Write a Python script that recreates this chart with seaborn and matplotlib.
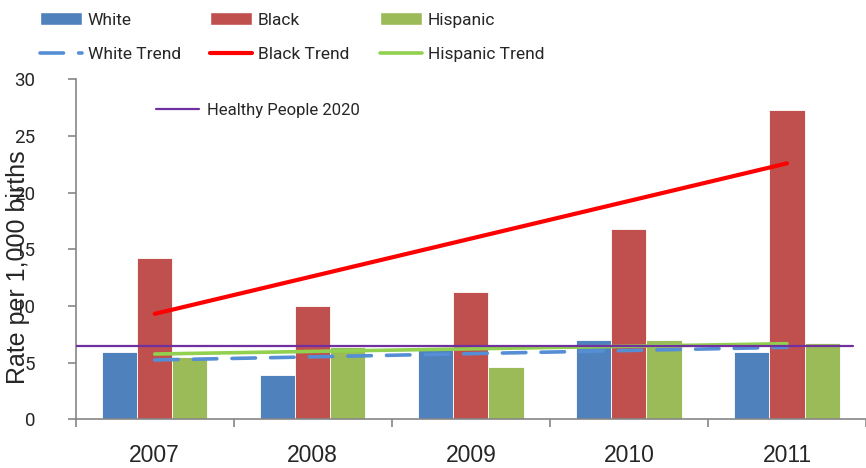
import pandas as pd
import seaborn as sns
import matplotlib.pyplot as plt
from matplotlib.patches import Patch
from matplotlib.lines import Line2D

# values
years = ["2007", "2008", "2009", "2010", "2011"]
white = [5.9, 3.9, 6.3, 7.0, 5.9]
black = [14.2, 10.0, 11.2, 16.8, 27.3]
hispanic = [5.5, 6.35, 4.65, 7.0, 6.75]

# trend lines (value at 2007, value at 2011)
white_trend = [5.23, 6.35]
black_trend = [9.3, 22.57]
hispanic_trend = [5.76, 6.67]

hp2020 = 6.5

groups = ["White", "Black", "Hispanic"]
bar_colors = ["#4F81BD", "#C0504D", "#9BBB59"]
trend_colors = ["#558ED5", "#FF0000", "#92D050"]

df = pd.DataFrame({
    "year": years * 3,
    "rate": white + black + hispanic,
    "group": [g for g in groups for _ in years],
})

txt_font = ["Roboto", "DejaVu Sans"]
regular = ["Liberation Sans", "DejaVu Sans"]

sns.set_style("white")
plt.rcParams["font.family"] = txt_font

fig = plt.figure(figsize=(8.66, 4.68), dpi=100)
ax = fig.add_axes([0.0874, 0.104, 0.9126, 0.727])

sns.barplot(data=df, x="year", y="rate", hue="group", palette=bar_colors,
            saturation=1, width=0.667, edgecolor="#ffffff", linewidth=0.6,
            legend=False, ax=ax, zorder=2)

ends = [0, len(years) - 1]
ax.plot(ends, white_trend, color=trend_colors[0], lw=2.6, dashes=(6.5, 4.2),
        dash_capstyle="round", zorder=3)
ax.plot(ends, hispanic_trend, color=trend_colors[2], lw=2.6, solid_capstyle="round", zorder=3)
ax.plot(ends, black_trend, color=trend_colors[1], lw=3, solid_capstyle="round", zorder=3)
ax.axhline(hp2020, xmin=0, xmax=0.983, color="#7030A0", lw=1.6, zorder=4)

ax.set_ylim(0, 30)
ax.set_xlim(-0.5, 4.465)
ax.set_yticks(range(0, 31, 5))

# category boundary ticks, labels at centers
ax.set_xticks([i - 0.5 for i in range(len(years) + 1)])
ax.set_xticklabels([])
ax.set_xticks(range(len(years)), minor=True)
ax.set_xticklabels(years, minor=True, fontsize=16.5, family=regular)
ax.tick_params(axis="x", which="major", direction="out", length=6, width=1.2,
               color="#868686", bottom=True)
ax.tick_params(axis="x", which="minor", length=0, pad=18)
ax.tick_params(axis="y", direction="out", length=6, width=1.2, color="#868686",
               left=True, pad=23, labelsize=13.5)

for s in ["top", "right"]:
    ax.spines[s].set_visible(False)
for s in ["left", "bottom"]:
    ax.spines[s].set_color("#868686")
    ax.spines[s].set_linewidth(1.2)

ax.set_xlabel("")
ax.set_ylabel("Rate per 1,000 births", fontsize=18, family=regular)
ax.yaxis.label.set_va("center")
ax.yaxis.set_label_coords(-0.0734, 0.446)

# one legend per group column: bar on top, trend below
for i, g in enumerate(groups):
    trend = Line2D([], [], color=trend_colors[i], lw=3 if i == 1 else 2.6)
    if i == 0:
        trend = Line2D([], [], color=trend_colors[i], lw=2.6, dashes=(6.5, 4.2),
                       dash_capstyle="round")
    fig.legend([Patch(facecolor=bar_colors[i]), trend], [g, g + " Trend"],
               loc="upper left", bbox_to_anchor=((40 + 170 * i) / 866, 1 - 12 / 468),
               frameon=False, fontsize=12.5, handlelength=2.4, handleheight=0.8,
               handletextpad=0.35, labelspacing=1.1, borderpad=0, borderaxespad=0)

fig.legend([Line2D([], [], color="#7030A0", lw=1.6)], ["Healthy People 2020"],
           loc="upper left", bbox_to_anchor=(156 / 866, 1 - 103 / 468),
           frameon=False, fontsize=12, handlelength=2.6, handletextpad=0.45,
           borderpad=0, borderaxespad=0)

fig.savefig("out.png", dpi=100)
